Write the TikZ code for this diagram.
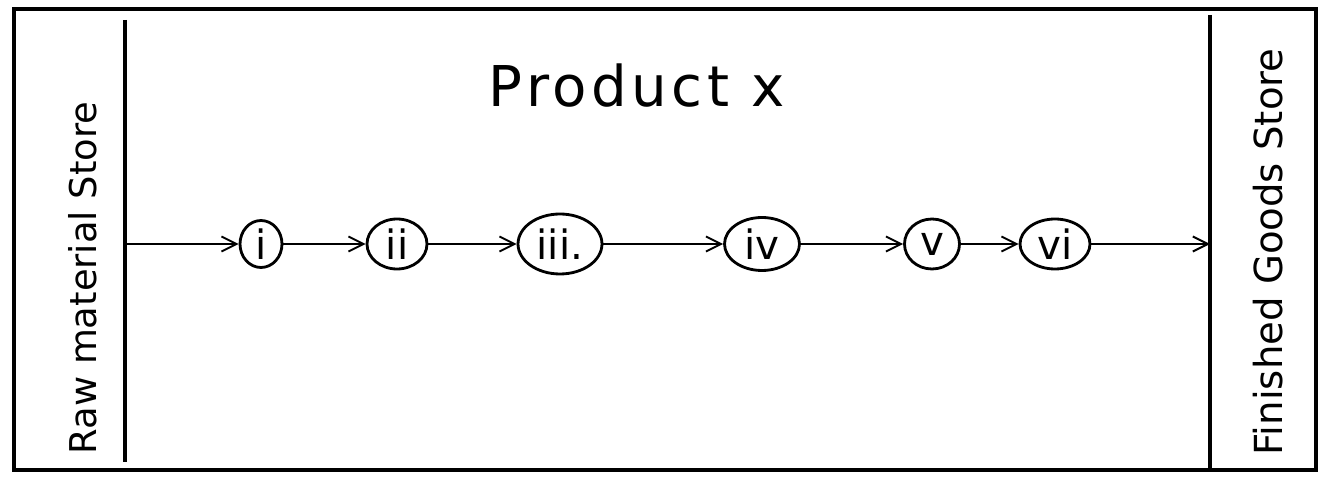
\documentclass[tikz,border=0pt]{standalone}
\usepackage{fontspec}
\setmainfont{DejaVu Sans}
\usetikzlibrary{arrows.meta,positioning,shapes}

\begin{document}
\begin{tikzpicture}[x=0.02cm,y=-0.02cm,
  opnode/.style={draw,ellipse,line width=1.6pt,inner sep=0pt,font=\fontsize{23}{25}\selectfont},
  flow/.style={-{Straight Barb[length=3mm,width=3mm]},line width=1.1pt},
  storelabel/.style={rotate=90,font=\fontsize{21}{24}\selectfont}]
\useasboundingbox (0,0) rectangle (1323,479);
% frame and store walls
\draw[line width=1.8pt] (14,9) rectangle (1316,470);
\draw[line width=1.8pt] (125,20) -- (125,462);
\draw[line width=1.8pt] (1210,15) -- (1210,470);
\coordinate (src) at (125,244);
\coordinate (snk) at (1210,244);
% labels
\node[font=\fontsize{32}{36}\selectfont\addfontfeatures{LetterSpace=8}] (title) at (637,86) {Product x};
\node[storelabel] (raw) at (83,278) {Raw material Store};
\node[storelabel,font=\fontsize{22}{24}\selectfont] (fin) at (1268,252) {Finished Goods Store};
% operations
\node[opnode,minimum width=0.84cm,minimum height=0.94cm] (n1) at (261,244) {i};
\node[opnode,minimum width=1.2cm,minimum height=1.0cm] (n2) at (397,244) {ii};
\node[opnode,minimum width=1.68cm,minimum height=1.2cm] (n3) at (560,244) {iii.};
\node[opnode,minimum width=1.5cm,minimum height=1.06cm] (n4) at (762,244) {iv};
\node[opnode,minimum width=1.1cm,minimum height=1.0cm] (n5) at (932,244) {v};
\node[opnode,minimum width=1.4cm,minimum height=1.0cm] (n6) at (1055,244) {vi};
\draw[flow] (src) -- (n1);
\draw[flow] (n1) -- (n2);
\draw[flow] (n2) -- (n3);
\draw[flow] (n3) -- (n4);
\draw[flow] (n4) -- (n5);
\draw[flow] (n5) -- (n6);
\draw[flow] (n6) -- (snk);
\end{tikzpicture}
\end{document}
